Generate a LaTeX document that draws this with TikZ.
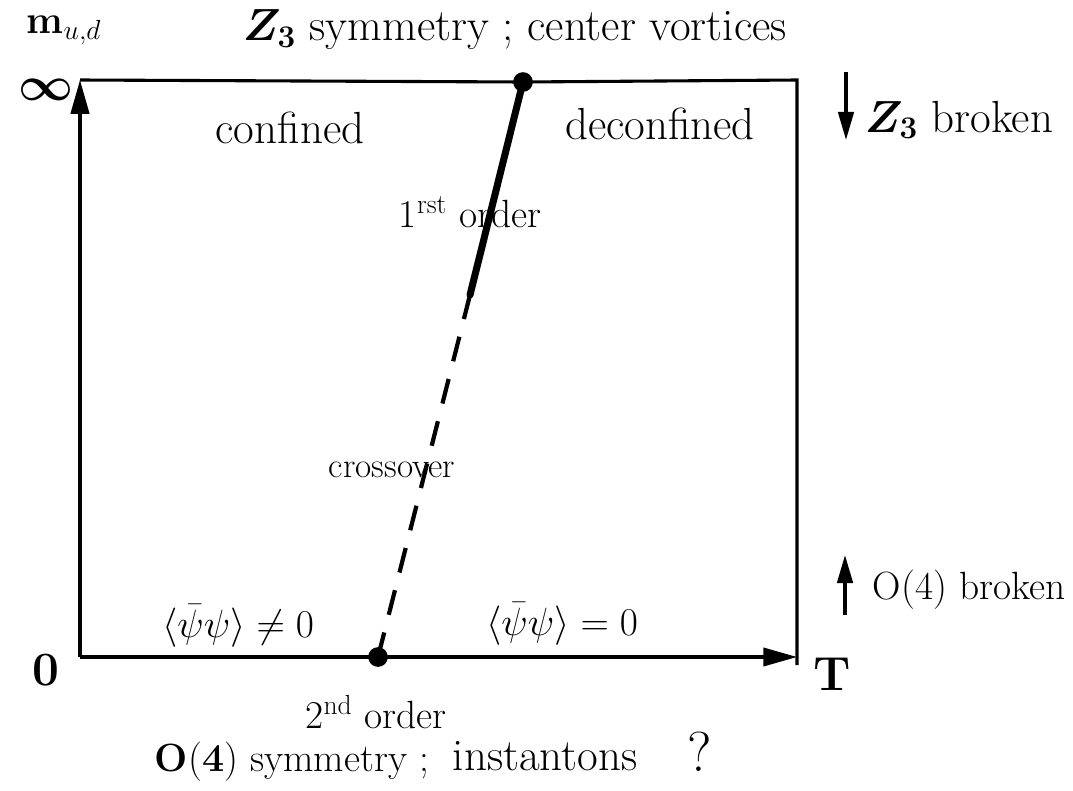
\RequirePackage{fix-cm}
\documentclass[tikz,border=0pt]{standalone}
\usepackage{amsmath,amssymb}
\usetikzlibrary{arrows.meta,positioning}
\tikzset{
    % frame and axes of the phase diagram
    frameline/.style={line width=2.2pt, black},
    axisline/.style={line width=2.2pt, -{Triangle[length=24pt,width=13pt]}},
    % transition lines
    firstorder/.style={line width=5pt, line cap=round},
    crossline/.style={line width=3pt, dash pattern=on 18pt off 13pt},
    endpoint/.style={circle, fill=black, minimum size=14pt, inner sep=0pt},
    % labels
    lbl/.style={font=\fontsize{28}{32}\selectfont},
    widelbl/.style={font=\fontsize{32}{36}\selectfont},
    smalllbl/.style={font=\fontsize{25}{30}\selectfont},
    biglbl/.style={font=\fontsize{34}{40}\selectfont\bfseries},
    sidearrow/.style={line width=2.4pt, -{Triangle[length=20pt,width=11pt]}},
}

\begin{document}
\begin{tikzpicture}[x=0.025cm,y=-0.025cm]
  \useasboundingbox (0,0) rectangle (1073,790);

  % corners
  \coordinate (orig) at (80,657);
  \coordinate (topl) at (80,80);
  \coordinate (topr) at (797,80);
  \coordinate (botr) at (797,657);
  \coordinate (rend) at (797,665);

  % critical end points and the kink of the line
  \node[endpoint] (cep) at (523,82) {};
  \node[endpoint] (tcp) at (378,657) {};
  \coordinate (kink) at (470,295);

  % frame
  \draw[frameline] (topl) -- (cep.center) -- (topr) -- (rend);
  \draw[axisline] (orig) -- (topl);
  \draw[axisline] (orig) -- (botr);

  % transition line
  \draw[firstorder] (cep.center) -- (kink);
  \draw[crossline] (tcp.center) -- (kink);

  % axes labels
  \node[lbl] (mass) at (64,30) {\textbf{m}$_{u,d}$};
  \node[biglbl] (inf) at (46,90) {$\boldsymbol{\infty}$};
  \node[biglbl] (zero) at (46,670) {0};
  \node[biglbl] (temp) at (832,674) {T};

  % top labels
  \node[widelbl, anchor=west] (ztop) at (238,30) {$\boldsymbol{Z_3}$ symmetry ; center vortices};
  \node[widelbl] (conf) at (290,128) {confined};
  \node[widelbl] (deconf) at (660,124) {deconfined};
  \node[lbl] (first) at (470,212) {1$^{\rm rst}$ order};
  \node[smalllbl] (cross) at (392,470) {crossover};

  % bottom labels
  \node[lbl] (chb) at (238,626) {$\langle\bar\psi\psi\rangle\neq 0$};
  \node[lbl] (chz) at (562,624) {$\langle\bar\psi\psi\rangle = 0$};
  \node[lbl] (sec) at (376,712) {2$^{\rm nd}$ order};
  \node[lbl, anchor=west] (osym) at (150,762) {\textbf{O}(\textbf{4}) symmetry ;};
  \node[widelbl, anchor=west] (inst) at (448,756) {instantons};
  \node[lbl, font=\fontsize{40}{44}\selectfont] (qmark) at (700,752) {?};

  % symmetry breaking arrows
  \coordinate (zdn0) at (846,72);
  \coordinate (zdn1) at (846,140);
  \draw[sidearrow] (zdn0) -- (zdn1);
  \node[widelbl, anchor=west] (zbrk) at (860,120) {$\boldsymbol{Z_3}$ broken};
  \coordinate (oup0) at (845,615);
  \coordinate (oup1) at (845,555);
  \draw[sidearrow] (oup0) -- (oup1);
  \node[lbl, anchor=west] (obrk) at (868,590) {O(4) broken};
\end{tikzpicture}
\end{document}
